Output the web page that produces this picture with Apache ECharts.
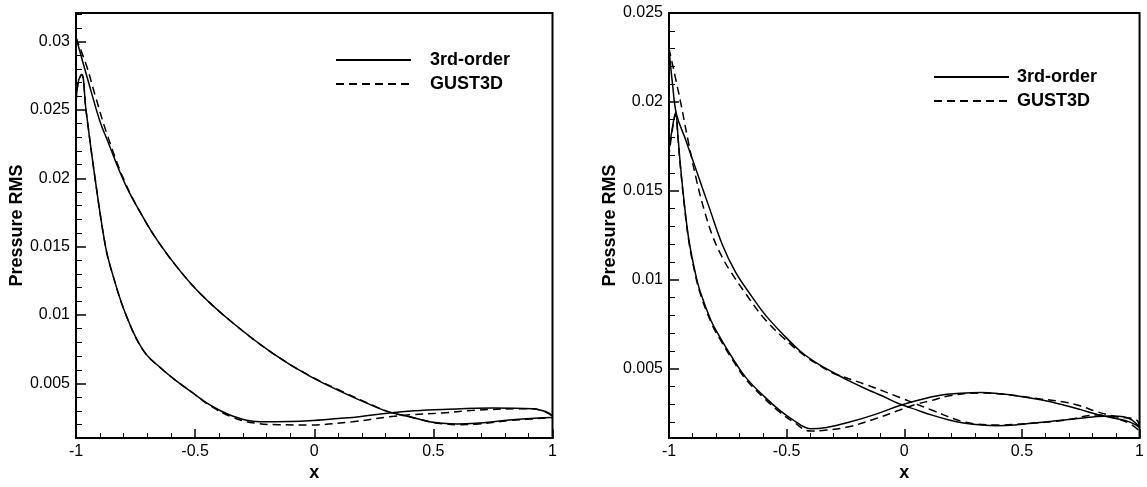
<!DOCTYPE html>
<html>
<head>
<meta charset="utf-8">
<script src="https://cdn.jsdelivr.net/npm/echarts@6/dist/echarts.min.js"></script>
<style>
html,body{margin:0;padding:0;background:#fff;}
#chart{width:1147px;height:487px;}
</style>
</head>
<body>
<div id="chart"></div>
<script>
// ---- Data (x, Pressure RMS) ----
const seriesNames = ['3rd-order', 'GUST3D'];
const xTickLabels = ['-1', '-0.5', '0', '0.5', '1'];
const leftYMajor = [0.005, 0.01, 0.015, 0.02, 0.025, 0.03];
const rightYMajor = [0.005, 0.01, 0.015, 0.02, 0.025];

// Left panel, 3rd-order (solid)
const leftSolidUpper = [[-1,0.0303],[-0.95,0.0272],[-0.9,0.0242],[-0.871,0.0229],[-0.794,0.0196],[-0.72,0.0172],[-0.66,0.0155],[-0.58,0.0136],[-0.48,0.0116],[-0.34,0.0094],[-0.174,0.0072],[-0.021,0.00555],[0.119,0.00435],[0.259,0.00327],[0.316,0.0029],[0.4,0.00256],[0.484,0.0022],[0.538,0.00208],[0.6,0.00203],[0.678,0.00208],[0.818,0.00232],[0.958,0.00248],[1,0.0025]];
const leftSolidLower = [[-1,0.0255],[-0.99,0.0271],[-0.976,0.0276],[-0.958,0.0250],[-0.92,0.0200],[-0.876,0.0150],[-0.85,0.0132],[-0.79,0.0100],[-0.717,0.0074],[-0.636,0.0060],[-0.565,0.0050],[-0.509,0.0043],[-0.44,0.00345],[-0.34,0.0026],[-0.228,0.0022],[-0.1,0.00222],[-0.022,0.00227],[0.1,0.00243],[0.189,0.00256],[0.316,0.00284],[0.42,0.0030],[0.538,0.0031],[0.749,0.0032],[0.917,0.00315],[0.96,0.0030],[0.987,0.0028],[1,0.0026]];
// Left panel, GUST3D (dashed)
const leftDashUpper = [[-1,0.0303],[-0.955,0.0282],[-0.92,0.0261],[-0.871,0.0233],[-0.794,0.0197],[-0.72,0.0172],[-0.66,0.0155],[-0.58,0.0136],[-0.48,0.0116],[-0.34,0.0094],[-0.174,0.0072],[-0.021,0.00558],[0.119,0.0044],[0.259,0.0033],[0.316,0.0029],[0.4,0.00256],[0.484,0.0022],[0.538,0.00205],[0.6,0.00198],[0.678,0.00202],[0.818,0.00228],[0.958,0.00245],[1,0.0025]];
const leftDashLower = [[-1,0.0255],[-0.99,0.0271],[-0.976,0.0276],[-0.958,0.0250],[-0.92,0.0200],[-0.876,0.0150],[-0.85,0.0132],[-0.79,0.0100],[-0.717,0.0074],[-0.636,0.0060],[-0.565,0.0050],[-0.509,0.0043],[-0.44,0.0034],[-0.34,0.0025],[-0.25,0.0021],[-0.15,0.00198],[-0.021,0.00196],[0.162,0.0022],[0.316,0.00256],[0.4,0.0027],[0.538,0.00284],[0.678,0.00304],[0.889,0.00315],[0.96,0.0030],[1,0.0026]];

// Right panel, 3rd-order (solid)
const rightSolidUpper = [[-1,0.0230],[-0.985,0.0210],[-0.968,0.0193],[-0.93,0.0179],[-0.88,0.0160],[-0.83,0.0141],[-0.771,0.0119],[-0.716,0.0104],[-0.65,0.0091],[-0.589,0.0080],[-0.52,0.0070],[-0.443,0.0060],[-0.37,0.0053],[-0.302,0.00479],[-0.232,0.0043],[-0.162,0.00386],[-0.09,0.00345],[-0.022,0.00303],[0.05,0.0027],[0.118,0.00239],[0.19,0.00212],[0.259,0.00193],[0.33,0.00183],[0.399,0.0018],[0.47,0.00184],[0.539,0.00193],[0.61,0.00202],[0.68,0.00212],[0.75,0.00222],[0.82,0.00232],[0.88,0.00234],[0.933,0.0023],[0.97,0.0021],[1,0.0017]];
const rightSolidLower = [[-1,0.0230],[-1,0.0173],[-0.985,0.0186],[-0.972,0.0194],[-0.962,0.0181],[-0.954,0.0168],[-0.935,0.0143],[-0.915,0.0122],[-0.89,0.0105],[-0.869,0.0094],[-0.821,0.0077],[-0.785,0.0068],[-0.73,0.0056],[-0.673,0.0045],[-0.6,0.0035],[-0.533,0.0027],[-0.47,0.0021],[-0.4,0.00163],[-0.33,0.0017],[-0.232,0.0020],[-0.12,0.00245],[-0.022,0.00292],[0.05,0.0032],[0.147,0.0035],[0.24,0.00362],[0.329,0.00366],[0.4,0.0036],[0.469,0.0035],[0.58,0.00325],[0.68,0.00295],[0.75,0.0027],[0.82,0.00243],[0.9,0.0022],[0.96,0.0020],[1,0.0017]];
// Right panel, GUST3D (dashed)
const rightDashUpper = [[-1,0.0230],[-0.954,0.0202],[-0.92,0.0179],[-0.883,0.0156],[-0.85,0.0139],[-0.813,0.0124],[-0.775,0.0113],[-0.74,0.0105],[-0.673,0.0092],[-0.6,0.0079],[-0.519,0.0068],[-0.42,0.0057],[-0.337,0.0050],[-0.302,0.00475],[-0.162,0.0041],[-0.022,0.0034],[0.118,0.00267],[0.259,0.0020],[0.399,0.00184],[0.539,0.00193],[0.68,0.0021],[0.82,0.0024],[0.9,0.0022],[0.96,0.0019],[1,0.0015]];
const rightDashLower = [[-1,0.0230],[-1,0.0170],[-0.985,0.0185],[-0.972,0.0193],[-0.962,0.0180],[-0.954,0.0167],[-0.935,0.0142],[-0.915,0.0121],[-0.89,0.0104],[-0.869,0.0093],[-0.821,0.0076],[-0.785,0.0067],[-0.73,0.0055],[-0.673,0.0044],[-0.6,0.0034],[-0.533,0.0026],[-0.47,0.0020],[-0.4,0.0015],[-0.33,0.00155],[-0.232,0.00175],[-0.12,0.0022],[-0.022,0.00267],[0.05,0.0030],[0.118,0.00322],[0.2,0.0035],[0.329,0.00364],[0.4,0.0036],[0.469,0.0035],[0.58,0.0033],[0.68,0.00313],[0.75,0.0029],[0.82,0.00258],[0.9,0.0023],[0.989,0.0021],[1,0.0015]];

// ---- Chart ----
const FONT = "'Liberation Sans', Arial, Helvetica, sans-serif";
const chart = echarts.init(document.getElementById('chart'), null, {renderer: 'canvas'});

function minorValues(lo, hi, majors) {
  const out = [];
  for (let k = Math.ceil(lo * 1000 - 1e-6); k <= Math.floor(hi * 1000 + 1e-6); k++) {
    const v = k / 1000;
    if (!majors.some(m => Math.abs(m - v) < 1e-9)) out.push(v);
  }
  return out;
}

function xAxisDef(gi) {
  return {
    type: 'value', gridIndex: gi, min: -1, max: 1, interval: 0.5, position: 'bottom',
    name: 'x', nameLocation: 'middle', nameGap: 12,
    nameTextStyle: {fontFamily: FONT, fontWeight: 'bold', fontSize: 18, color: '#000'},
    axisLine: {show: true, onZero: false, lineStyle: {color: '#000', width: 2}},
    axisTick: {show: true, inside: true, length: 9, lineStyle: {color: '#000', width: 1.5}},
    minorTick: {show: true, splitNumber: 5, length: 5, lineStyle: {color: '#000', width: 1}},
    axisLabel: {color: '#000', fontFamily: FONT, fontSize: 16, margin: 5,
      formatter: v => { const i = Math.round((v + 1) / 0.5); return xTickLabels[i] !== undefined ? xTickLabels[i] : ''; }},
    splitLine: {show: false}, minorSplitLine: {show: false}
  };
}
function yMajorDef(gi, lo, hi, majors) {
  return {
    type: 'value', gridIndex: gi, min: lo, max: hi, position: 'left',
    name: 'Pressure RMS', nameLocation: 'middle', nameGap: 46,
    nameTextStyle: {fontFamily: FONT, fontWeight: 'bold', fontSize: 18, color: '#000'},
    axisLine: {show: true, onZero: false, lineStyle: {color: '#000', width: 2}},
    axisTick: {show: true, inside: true, length: 10, customValues: majors, lineStyle: {color: '#000', width: 1.5}},
    axisLabel: {color: '#000', fontFamily: FONT, fontSize: 16, margin: 6, customValues: majors,
      formatter: v => String(parseFloat(v.toFixed(4)))},
    splitLine: {show: false}
  };
}
function yMinorDef(gi, lo, hi, majors) {
  return {
    type: 'value', gridIndex: gi, min: lo, max: hi, position: 'left', offset: 0,
    axisLine: {show: false, onZero: false},
    axisTick: {show: true, inside: true, length: 6, customValues: minorValues(lo, hi, majors), lineStyle: {color: '#000', width: 1}},
    axisLabel: {show: false},
    splitLine: {show: false}
  };
}
function lineSeries(name, data, xi, yi, dashed) {
  return {
    type: 'line', name: name, data: data, xAxisIndex: xi, yAxisIndex: yi,
    symbol: 'none', smooth: 0.4, clip: true,
    lineStyle: {color: '#000', width: 1.5, type: dashed ? [8, 5] : 'solid'},
    itemStyle: {color: '#000'},
    emphasis: {disabled: true}
  };
}
function legendDef(left, top, pad) {
  return {
    orient: 'vertical', left: left, top: top,
    itemWidth: 75, itemHeight: 14, itemGap: 6,
    data: seriesNames,
    itemStyle: {opacity: 0},
    textStyle: {fontFamily: FONT, fontWeight: 'bold', fontSize: 18, color: '#000', padding: [0, 0, 0, pad]},
    selectedMode: false
  };
}

const option = {
  animation: false,
  backgroundColor: '#fff',
  grid: [
    {left: 76, top: 13, width: 476.5, height: 433.7, show: true, borderColor: '#000', borderWidth: 2, backgroundColor: 'transparent'},
    {left: 669, top: 13, width: 475, height: 433.7, show: true, borderColor: '#000', borderWidth: 2, backgroundColor: 'transparent'}
  ],
  legend: [legendDef(330, 46, 14), legendDef(928, 63, 3)],
  xAxis: [xAxisDef(0), xAxisDef(1)],
  yAxis: [
    yMajorDef(0, 0.001, 0.0321, leftYMajor),
    yMinorDef(0, 0.001, 0.0321, leftYMajor),
    yMajorDef(1, 0.0011, 0.025, rightYMajor),
    yMinorDef(1, 0.0011, 0.025, rightYMajor)
  ],
  series: [
    lineSeries(seriesNames[0], leftSolidUpper, 0, 0, false),
    lineSeries(seriesNames[0], leftSolidLower, 0, 0, false),
    lineSeries(seriesNames[1], leftDashUpper, 0, 0, true),
    lineSeries(seriesNames[1], leftDashLower, 0, 0, true),
    lineSeries(seriesNames[0], rightSolidUpper, 1, 2, false),
    lineSeries(seriesNames[0], rightSolidLower, 1, 2, false),
    lineSeries(seriesNames[1], rightDashUpper, 1, 2, true),
    lineSeries(seriesNames[1], rightDashLower, 1, 2, true)
  ]
};
chart.setOption(option);
</script>
</body>
</html>
